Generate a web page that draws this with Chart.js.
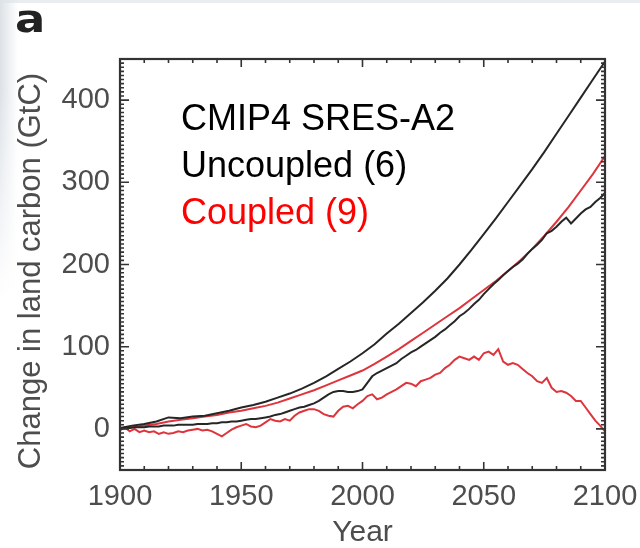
<!DOCTYPE html>
<html>
<head>
<meta charset="utf-8">
<script src="https://cdn.jsdelivr.net/npm/chart.js"></script>
<style>
  html, body { margin: 0; padding: 0; background: #ffffff; }
  body { width: 640px; height: 548px; overflow: hidden; position: relative; }
  #topband { position: absolute; left: 0; top: 0; width: 640px; height: 3px; background: #e9edf0; }
  #sideband {
    position: absolute; left: 0; top: 0; width: 18px; height: 300px;
    background: linear-gradient(to right, #dde2e7, rgba(255,255,255,0));
    -webkit-mask-image: linear-gradient(to bottom, #000 30%, transparent);
    mask-image: linear-gradient(to bottom, #000 30%, transparent);
  }
  #wrap { position: absolute; left: 0; top: 0; width: 640px; height: 548px; }
</style>
</head>
<body>
<div id="topband"></div>
<div id="sideband"></div>
<div id="wrap">
  <canvas id="landChart" width="640" height="548"></canvas>
</div>
<script>
// years for the smooth ensemble means (5-yr) and the noisy runs (2-yr)
const years5 = Array.from({ length: 41 }, (_, i) => 1900 + i * 5);
const years2 = Array.from({ length: 101 }, (_, i) => 1900 + i * 2);

// uncoupled, upper (GtC)
const uncoupledHigh = [
  1, 4, 6, 9, 14, 13, 15, 16, 19, 22,
  26, 29, 33, 38, 43, 49, 56, 64, 73, 82,
  92, 103, 116, 128, 141, 154, 168, 183, 200, 218,
  237, 256, 276, 296, 316, 337, 359, 381, 403, 425,
  447
];

// coupled, upper (GtC)
const coupledHigh = [
  0, 2, 4, 6, 9, 11, 13, 15, 17, 20,
  22, 25, 28, 32, 37, 42, 47, 53, 59, 65,
  71, 79, 88, 97, 107, 117, 127, 137, 147, 158,
  169, 180, 192, 205, 219, 235, 252, 270, 290, 310,
  332
];

// uncoupled, lower (GtC), every 2 years
const uncoupledLow = [
  0, 1, 1, 2, 2, 2, 3, 3, 3, 4,
  4, 4, 5, 5, 5, 5, 6, 6, 6, 7,
  7, 8, 8, 9, 9, 10, 11, 12, 12, 13,
  14, 15, 17, 18, 20, 22, 24, 26, 27, 29,
  31, 34, 38, 42, 45, 46, 46, 45, 45, 46,
  48, 56, 64, 68, 71, 74, 77, 80, 85, 89,
  93, 96, 100, 104, 108, 112, 117, 121, 126, 131,
  137, 141, 146, 152, 157, 164, 170, 176, 181, 187,
  192, 197, 201, 206, 213, 219, 224, 230, 238, 241,
  246, 252, 257, 250, 256, 262, 267, 270, 276, 281,
  287
];

// coupled, lower (GtC), every 2 years
const coupledLow = [
  -2, 2, -3, 0, -4, -2, -4, -3, -6, -4,
  -6, -5, -3, -4, -2, -1, 0, -2, -1, -3,
  -6, -9, -5, -1, 2, 4, 6, 3, 2, 4,
  8, 12, 10, 9, 12, 10, 16, 20, 22, 24,
  24, 22, 18, 16, 15, 22, 27, 28, 25, 30,
  34, 40, 42, 36, 38, 42, 45, 48, 52, 56,
  55, 52, 58, 60, 62, 66, 68, 74, 78, 84,
  88, 86, 84, 88, 84, 92, 94, 90, 97, 82,
  78, 80, 78, 73, 68, 64, 58, 56, 62, 50,
  45, 46, 44, 40, 34, 34, 26, 18, 10, 4,
  -3
];

const xTicks = [1900, 1950, 2000, 2050, 2100];
const yTicks = [0, 100, 200, 300, 400];
const yTitle = 'Change in land carbon (GtC)';
const legendLines = [
  { text: 'CMIP4 SRES-A2', color: '#000000' },
  { text: 'Uncoupled (6)', color: '#000000' },
  { text: 'Coupled (9)', color: '#ff0000' }
];

const BLACK = '#262626';
const RED = 'rgb(222, 52, 60)';
const AXIS = '#333333';
const LABEL = '#4d4d4d';

function pairs(xs, ys) {
  return xs.map((x, i) => ({ x: x, y: ys[i] }));
}

// box frame, inward ticks on all four sides, y title, panel letter and legend text
const framePlugin = {
  id: 'frame',
  afterDraw(chart) {
    const { ctx, chartArea: a, scales: { x, y } } = chart;
    ctx.save();
    ctx.strokeStyle = AXIS;
    ctx.lineWidth = 1.6;
    ctx.beginPath();
    for (let yr = 1900; yr <= 2100; yr += 10) {
      const px = x.getPixelForValue(yr);
      const len = yr % 50 === 0 ? 8 : 4;
      ctx.moveTo(px, a.bottom); ctx.lineTo(px, a.bottom - len);
      ctx.moveTo(px, a.top); ctx.lineTo(px, a.top + len);
    }
    for (let v = -50; v <= 450; v += 5) {
      const py = y.getPixelForValue(v);
      const len = v % 100 === 0 ? 9 : 4;
      ctx.moveTo(a.left, py); ctx.lineTo(a.left + len, py);
      ctx.moveTo(a.right, py); ctx.lineTo(a.right - len, py);
    }
    ctx.stroke();
    ctx.lineWidth = 2.2;
    ctx.strokeRect(a.left, a.top, a.right - a.left, a.bottom - a.top);

    // rotated y-axis title
    ctx.save();
    ctx.translate(31, 271);
    ctx.rotate(-Math.PI / 2);
    ctx.fillStyle = LABEL;
    ctx.font = '31px "Liberation Sans"';
    ctx.textAlign = 'center';
    ctx.textBaseline = 'middle';
    ctx.fillText(yTitle, 0, 0);
    ctx.restore();

    // panel letter
    ctx.save();
    ctx.fillStyle = '#222222';
    ctx.font = 'bold 38px "DejaVu Sans"';
    ctx.translate(15, 32);
    ctx.scale(1.18, 1);
    ctx.fillText('a', 0, 0);
    ctx.restore();

    ctx.font = '36px "Liberation Sans"';
    ctx.textBaseline = 'alphabetic';
    legendLines.forEach((l, i) => {
      ctx.fillStyle = l.color;
      ctx.fillText(l.text, 181, 130 + i * 47);
    });
    ctx.restore();
  }
};

new Chart(document.getElementById('landChart'), {
  type: 'line',
  data: {
    datasets: [
      { label: 'Uncoupled high', data: pairs(years5, uncoupledHigh), borderColor: BLACK },
      { label: 'Uncoupled low', data: pairs(years2, uncoupledLow), borderColor: BLACK },
      { label: 'Coupled high', data: pairs(years5, coupledHigh), borderColor: RED },
      { label: 'Coupled low', data: pairs(years2, coupledLow), borderColor: RED }
    ]
  },
  options: {
    responsive: false,
    animation: false,
    layout: { padding: { top: 59, right: 35, left: 0, bottom: 0 } },
    elements: {
      point: { radius: 0 },
      line: { borderWidth: 2, tension: 0, fill: false }
    },
    plugins: {
      legend: { display: false },
      tooltip: { enabled: false }
    },
    scales: {
      x: {
        type: 'linear',
        min: 1900,
        max: 2100,
        afterBuildTicks: s => { s.ticks = xTicks.map(v => ({ value: v })); },
        afterFit: s => { s.height = 78; s.paddingLeft = 0; s.paddingRight = 0; },
        grid: { display: false, drawTicks: false },
        border: { display: false },
        ticks: {
          padding: 10,
          color: LABEL,
          font: { family: 'Liberation Sans', size: 29 },
          maxRotation: 0,
          callback: v => String(v)
        },
        title: {
          display: true,
          text: 'Year',
          color: LABEL,
          font: { family: 'Liberation Sans', size: 30, lineHeight: 1 },
          padding: { top: 0, bottom: 0 }
        }
      },
      y: {
        type: 'linear',
        min: -50,
        max: 450,
        afterBuildTicks: s => { s.ticks = yTicks.map(v => ({ value: v })); },
        afterFit: s => { s.width = 120; s.paddingTop = 0; s.paddingBottom = 0; },
        grid: { display: false, drawTicks: false },
        border: { display: false },
        ticks: {
          padding: 10,
          color: LABEL,
          font: { family: 'Liberation Sans', size: 29 },
          callback: v => String(v)
        }
      }
    }
  },
  plugins: [framePlugin]
});
</script>
</body>
</html>
